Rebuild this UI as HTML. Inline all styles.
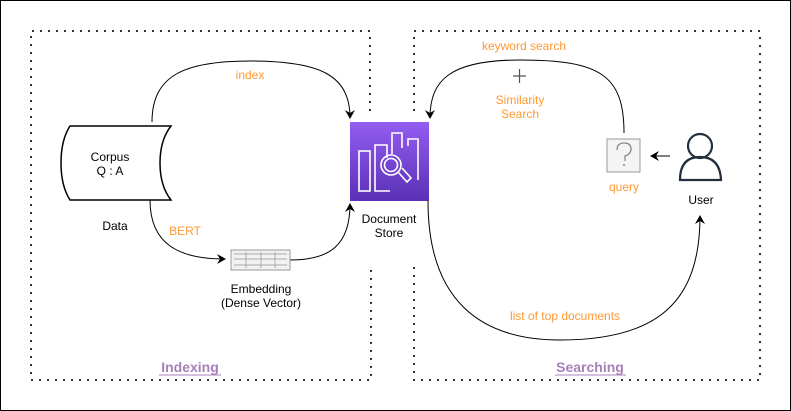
<!DOCTYPE html>
<html><head><meta charset="utf-8"><style>
html,body{margin:0;padding:0;background:#fff}
svg{display:block}
text{font-family:"Liberation Sans",Arial,sans-serif;font-size:12px}
</style></head><body>
<svg width="791" height="411" viewBox="0 0 791 411" xmlns="http://www.w3.org/2000/svg">
<defs>
<marker id="a" markerWidth="10" markerHeight="10" refX="8" refY="5" orient="auto" markerUnits="userSpaceOnUse"><path d="M0,0 L9,5 L0,10 L3,5 Z" fill="#000"/></marker>
<linearGradient id="g" x1="0" y1="0" x2="0" y2="1"><stop offset="0" stop-color="#945df2"/><stop offset="1" stop-color="#5a30b5"/></linearGradient>
</defs>
<rect x="0.5" y="0.5" width="790" height="410" fill="#fff" stroke="#000" stroke-width="1"/>
<g fill="none" stroke="#000" stroke-width="2" stroke-dasharray="0.1 7.9" stroke-linecap="round">
<path d="M370,110 L370,31 L31,31 L31,380 L371,380 L371,264"/>
<path d="M414,110 L414,31 L760,31 L760,380 L414,380 L414,260"/>
</g>
<path d="M70,126 L171,126 Q160,140 160,163 Q160,186 171,200 L70,200 Q61,186 61,163 Q61,140 70,126 Z" fill="#fff" stroke="#000" stroke-width="1.5"/>
<text x="110" y="161" text-anchor="middle">Corpus</text>
<text x="110" y="175" text-anchor="middle">Q : A</text>
<text x="115" y="230" text-anchor="middle">Data</text>
<g fill="none" stroke="#000" stroke-width="1">
<path d="M152,122 C152,75 185,61 250,61 C320,61 350,75 350,118" marker-end="url(#a)"/>
<path d="M150,200 C150,245 180,259 225,259" marker-end="url(#a)"/>
<path d="M290,260 C330,260 350,245 350,204" marker-end="url(#a)"/>
<path d="M428,201 C428,300 480,340 560,340 C660,340 700,300 700,216" marker-end="url(#a)"/>
<path d="M624,133 C624,75 600,60 520,60 C450,60 430,80 430,118" marker-end="url(#a)"/>
<path d="M670,156 L651,156" marker-end="url(#a)"/>
</g>
<text x="250" y="79" text-anchor="middle" fill="#ff9933">index</text>
<text x="185" y="235" text-anchor="middle" fill="#ff9933">BERT</text>
<g stroke="#999" fill="#f2f2f2" stroke-width="1">
<rect x="231" y="250" width="59" height="20"/>
<path d="M234,254 H287 M234,259 H287 M234,265 H287 M246,252 V268 M261,252 V268 M275,252 V268" fill="none" stroke="#aaa"/>
</g>
<text x="261" y="293" text-anchor="middle">Embedding</text>
<text x="261" y="307" text-anchor="middle">(Dense Vector)</text>
<rect x="350" y="122" width="79" height="79" fill="url(#g)"/>
<g fill="none" stroke="#fff" stroke-width="1.6">
<rect x="359" y="151" width="11" height="40"/>
<path d="M375,164 V191 H390 M375,164 V145 H387 V158"/>
<path d="M392,154 V133 H402 V148"/>
<path d="M408,146 V139 H418 V180"/>
<circle cx="391" cy="165" r="10"/><circle cx="391" cy="165" r="6.5"/>
<path d="M398,172 L407,182 L411,178 L402,168"/>
</g>
<text x="389" y="223" text-anchor="middle">Document</text>
<text x="389" y="237" text-anchor="middle">Store</text>
<text x="524" y="50" text-anchor="middle" fill="#ff9933">keyword search</text>
<path d="M513,76 H526 M519.5,69 V83" stroke="#555" stroke-width="1.2"/>
<text x="520" y="104" text-anchor="middle" fill="#ff9933">Similarity</text>
<text x="520" y="118" text-anchor="middle" fill="#ff9933">Search</text>
<rect x="607" y="139" width="33" height="33" fill="#f4f4f4" stroke="#999" stroke-width="1"/>
<path d="M617,150 Q617,143 624,143 Q631,143 631,149 Q631,154 625,156 V161" fill="none" stroke="#888" stroke-width="1.3"/>
<circle cx="624" cy="165" r="1" fill="#888"/>
<text x="624" y="191" text-anchor="middle" fill="#ff9933">query</text>
<circle cx="700" cy="146" r="12" fill="none" stroke="#232f3e" stroke-width="2.2"/>
<path d="M680,180 Q680,157 700,157 Q720,157 721,180 Z" fill="none" stroke="#232f3e" stroke-width="2.2"/>
<text x="701" y="204" text-anchor="middle">User</text>
<text x="565" y="320" text-anchor="middle" fill="#ff9933">list of top documents</text>
<text x="190" y="372" text-anchor="middle" fill="#a680b8" font-weight="bold" style="font-size:14px">Indexing</text>
<text x="590" y="372" text-anchor="middle" fill="#a680b8" font-weight="bold" style="font-size:14px">Searching</text>
<path d="M159,375 H221 M555,375 H626" stroke="#a680b8" stroke-width="1"/>
</svg>
</body></html>
